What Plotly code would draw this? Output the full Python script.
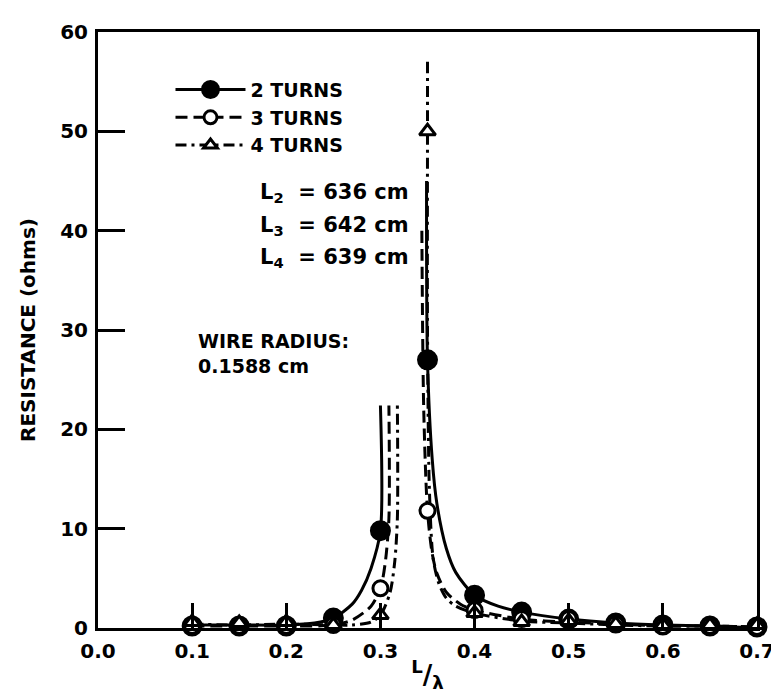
import plotly.graph_objects as go

# ---- axis ticks ----
x_ticks = [0.0, 0.1, 0.2, 0.3, 0.4, 0.5, 0.6, 0.7]
x_tick_labels = ["0.0", "0.1", "0.2", "0.3", "0.4", "0.5", "0.6", "0.7"]
y_ticks = [0, 10, 20, 30, 40, 50, 60]
y_tick_labels = ["0", "10", "20", "30", "40", "50", "60"]

# ---- measured points (L/lambda, resistance in ohms) ----
x_meas = [0.10, 0.15, 0.20, 0.25, 0.30, 0.35, 0.40, 0.45, 0.50, 0.55, 0.60, 0.65, 0.70]
r2_meas = [0.2, 0.2, 0.2, 1.0, 9.8, 27.0, 3.3, 1.6, 0.9, 0.5, 0.3, 0.2, 0.1]
r3_meas = [0.2, 0.2, 0.2, 0.3, 4.0, 11.8, 1.8, 0.9, 0.9, 0.4, 0.2, 0.2, 0.1]
r4_meas = [0.6, 0.5, 0.6, 0.3, 1.3, 50.0, 1.5, 0.6, 0.7, 0.4, 0.3, 0.3, 0.3]

# ---- traced curves ----
c2_left_x = [0.10, 0.15, 0.20, 0.23, 0.25, 0.27, 0.28, 0.29, 0.30, 0.30]
c2_left_y = [0.3, 0.3, 0.3, 0.5, 1.0, 2.4, 3.8, 6.0, 9.8, 22.4]
c2_right_x = [0.349, 0.35, 0.355, 0.36, 0.37, 0.38, 0.40, 0.425, 0.45, 0.50, 0.55, 0.60, 0.65, 0.70]
c2_right_y = [45.0, 27.0, 17.0, 12.5, 8.0, 5.6, 3.3, 2.2, 1.6, 0.9, 0.5, 0.3, 0.2, 0.0]

c3_left_x = [0.10, 0.15, 0.20, 0.25, 0.27, 0.29, 0.30, 0.305, 0.309, 0.309]
c3_left_y = [0.2, 0.2, 0.2, 0.3, 0.8, 2.2, 4.0, 6.5, 11.0, 22.4]
c3_right_x = [0.344, 0.346, 0.35, 0.355, 0.36, 0.37, 0.385, 0.40, 0.45, 0.50, 0.55, 0.60, 0.65, 0.70]
c3_right_y = [40.0, 22.0, 11.8, 7.5, 5.5, 3.6, 2.4, 1.8, 0.9, 0.6, 0.4, 0.2, 0.2, 0.1]

c4_left_x = [0.10, 0.15, 0.20, 0.25, 0.27, 0.29, 0.30, 0.31, 0.315, 0.318, 0.318]
c4_left_y = [0.4, 0.3, 0.4, 0.3, 0.3, 0.6, 1.3, 3.5, 6.5, 11.0, 22.4]
c4_right_x = [0.35, 0.35, 0.35, 0.352, 0.356, 0.362, 0.37, 0.38, 0.40, 0.45, 0.50, 0.55, 0.60, 0.65, 0.70]
c4_right_y = [57.0, 50.0, 30.0, 14.0, 7.0, 4.5, 3.0, 2.2, 1.5, 0.7, 0.5, 0.3, 0.2, 0.2, 0.1]

series_names = ["2 TURNS", "3 TURNS", "4 TURNS"]

FONT = "DejaVu Sans"
BLACK = "black"

styles = [
    dict(dash="solid", symbol="circle", size=18, fill=BLACK),
    dict(dash="12px,6px", symbol="circle", size=15, fill="white"),
    dict(dash="11px,5px,3px,5px", symbol="triangle-up", size=14, fill="white"),
]

curves = [
    [(c2_left_x, c2_left_y), (c2_right_x, c2_right_y)],
    [(c3_left_x, c3_left_y), (c3_right_x, c3_right_y)],
    [(c4_left_x, c4_left_y), (c4_right_x, c4_right_y)],
]
meas = [r2_meas, r3_meas, r4_meas]

fig = go.Figure()

# lines first
for i, name in enumerate(series_names):
    st = styles[i]
    for cx, cy in curves[i]:
        fig.add_trace(go.Scatter(
            x=cx, y=cy, mode="lines", showlegend=False, hoverinfo="skip",
            line=dict(color=BLACK, width=3, dash=st["dash"], shape="spline", smoothing=0.8),
            cliponaxis=False,
        ))

# then measured markers
for i, name in enumerate(series_names):
    st = styles[i]
    fig.add_trace(go.Scatter(
        x=x_meas, y=meas[i], mode="markers", showlegend=False,
        marker=dict(symbol=st["symbol"], size=st["size"], color=st["fill"],
                    line=dict(color=BLACK, width=3)),
        cliponaxis=False,
    ))

# legend entries
for i, name in enumerate(series_names):
    st = styles[i]
    fig.add_trace(go.Scatter(
        x=[None], y=[None], mode="lines+markers", name=name,
        line=dict(color=BLACK, width=3, dash=st["dash"]),
        marker=dict(symbol=st["symbol"], size=st["size"] - 2, color=st["fill"],
                    line=dict(color=BLACK, width=3)),
    ))

axis_common = dict(
    showgrid=False, zeroline=False, showline=True, linecolor=BLACK, linewidth=3,
    mirror=True, ticks="inside", tickcolor=BLACK, tickwidth=2.5,
    tickfont=dict(family=FONT, size=20, color=BLACK, weight="bold"),
    ticklabeloverflow="allow",
)

fig.update_xaxes(
    range=[0, 0.7], tickvals=x_ticks, ticktext=x_tick_labels, ticklen=25,
    ticklabelstandoff=3,
    title=dict(text="<sup>L</sup>/<sub>λ</sub>", font=dict(family=FONT, size=26, color=BLACK, weight="bold"),
               standoff=4),
    **axis_common,
)
fig.update_yaxes(
    range=[0, 60], tickvals=y_ticks, ticktext=y_tick_labels, ticklen=27,
    ticklabelstandoff=3,
    title=dict(text="RESISTANCE (ohms)", font=dict(family=FONT, size=20, color=BLACK, weight="bold"),
               standoff=20),
    **axis_common,
)

annot_font = dict(family=FONT, size=21, color=BLACK, weight="bold")
fig.add_annotation(x=0.17, y=43.8, xref="x", yref="y", text="L<sub>2</sub>&nbsp; = 636 cm",
                   showarrow=False, xanchor="left", yanchor="middle", font=annot_font)
fig.add_annotation(x=0.17, y=40.5, xref="x", yref="y", text="L<sub>3</sub>&nbsp; = 642 cm",
                   showarrow=False, xanchor="left", yanchor="middle", font=annot_font)
fig.add_annotation(x=0.17, y=37.2, xref="x", yref="y", text="L<sub>4</sub>&nbsp; = 639 cm",
                   showarrow=False, xanchor="left", yanchor="middle", font=annot_font)
fig.add_annotation(x=0.104, y=27.6, xref="x", yref="y", text="WIRE RADIUS:<br>0.1588 cm",
                   showarrow=False, xanchor="left", yanchor="middle", align="left",
                   font=dict(family=FONT, size=19, color=BLACK, weight="bold"))

fig.update_layout(
    width=779, height=694,
    margin=dict(l=90, r=17, t=17, b=74),
    plot_bgcolor="white", paper_bgcolor="white",
    showlegend=True,
    legend=dict(x=0.11, y=0.935, xanchor="left", yanchor="top",
                font=dict(family=FONT, size=19, color=BLACK, weight="bold"),
                bgcolor="rgba(0,0,0,0)", itemwidth=70, tracegroupgap=0),
)

fig.write_html("out.html")
